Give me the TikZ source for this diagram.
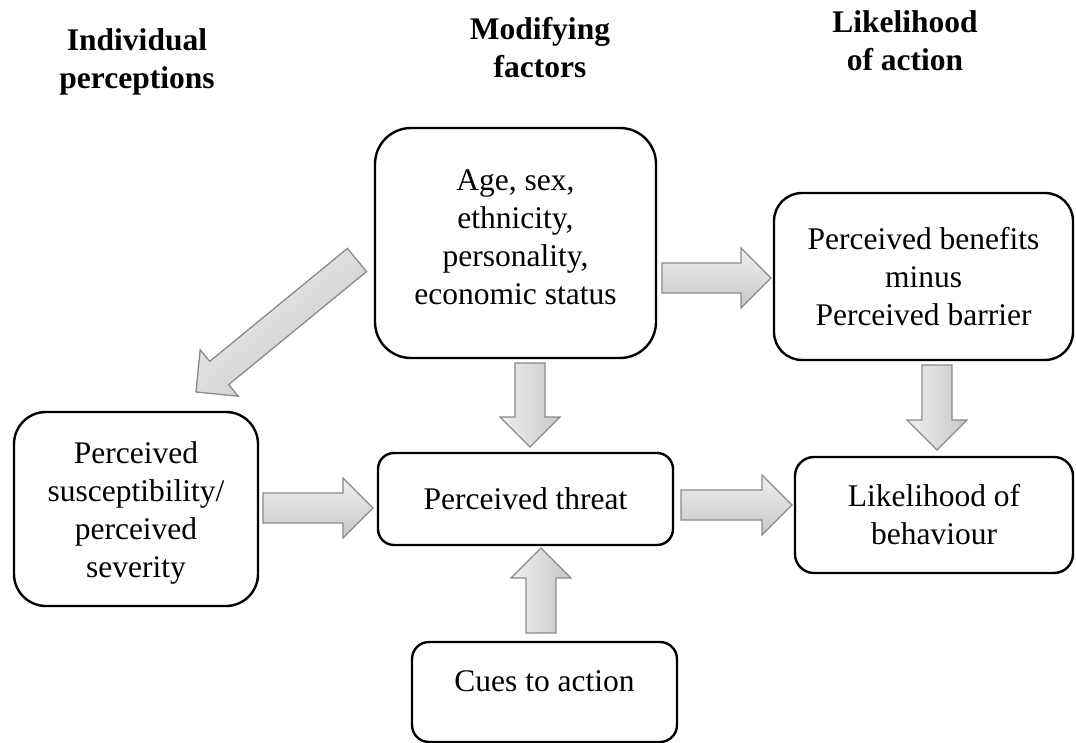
\documentclass[tikz,border=0pt]{standalone}
\usepackage{fontspec}
\setmainfont{Liberation Serif}
\usetikzlibrary{calc}
\newcommand\bodyfont{\fontsize{31.5}{38}\selectfont}
\newcommand\headfont{\fontsize{31.5}{38}\selectfont\bfseries}
\tikzset{
  box/.style={draw=black, line width=2.4pt, rounded corners=#1, align=center,
    inner sep=0pt, font=\bodyfont, fill=white},
  heading/.style={align=center, inner sep=0pt, font=\headfont},
  barrow/.style={draw=black!46, line width=1.3pt, line join=miter},
  hgrad/.style={top color=black!6, bottom color=black!22},
  vgrad/.style={left color=black!6, right color=black!22},
  dgrad/.style={top color=black!6, bottom color=black!22, shading angle=40},
}
% block arrow from #2 (tail) to #3 (tip): shaft 30, head 60 wide, 30 long
\newcommand\blockarrow[3][]{%
  \coordinate (bA) at (#2);
  \coordinate (bB) at (#3);
  \coordinate (bH) at ($(bB)!30pt!(bA)$);
  \path[barrow,#1]
    ($(bA)!15pt!90:(bB)$) -- ($(bH)!15pt!90:(bB)$) -- ($(bH)!30pt!90:(bB)$)
    -- (bB) -- ($(bH)!30pt!-90:(bB)$) -- ($(bH)!15pt!-90:(bB)$)
    -- ($(bA)!15pt!-90:(bB)$) -- cycle;}
\begin{document}
\begin{tikzpicture}[x=1pt,y=-1pt]
\useasboundingbox (0,0) rectangle (1076,743);

% headings
\node[heading] (h1) at (137,61.7) {Individual\\perceptions};
\node[heading] (h2) at (540,48) {Modifying\\factors};
\node[heading] (h3) at (905,40.5) {Likelihood\\of action};

% boxes
\node[box=36pt, minimum width=281pt, minimum height=230pt] (age) at (515.5,243)
  {Age, sex,\\ethnicity,\\personality,\\economic status\rule[-11pt]{0pt}{11pt}};
\node[box=28pt, minimum width=299pt, minimum height=167pt] (ben) at (923.5,276.5)
  {Perceived benefits\\minus\\Perceived barrier};
\node[box=32pt, minimum width=244pt, minimum height=194pt] (sus) at (136,509)
  {Perceived\rule{0pt}{30pt}\\susceptibility/\\perceived\\severity};
\node[box=16pt, minimum width=295pt, minimum height=92pt] (thr) at (525.5,499)
  {Perceived threat};
\node[box=19pt, minimum width=278pt, minimum height=116pt] (lik) at (934,515)
  {Likelihood of\\behaviour};
\node[box=17pt, minimum width=265pt, minimum height=100pt] (cue) at (544.5,692)
  {Cues to action\rule[-22pt]{0pt}{22pt}};

% arrow end points
\coordinate (a1s) at (357,260);  \coordinate (a1e) at (196,392);
\coordinate (a2s) at (662,278);  \coordinate (a2e) at (771,278);
\coordinate (a3s) at (530,363);  \coordinate (a3e) at (530,447);
\coordinate (a4s) at (937,365);  \coordinate (a4e) at (937,450);
\coordinate (a5s) at (263,508);  \coordinate (a5e) at (373,508);
\coordinate (a6s) at (681,505);  \coordinate (a6e) at (792,505);
\coordinate (a7s) at (541,633);  \coordinate (a7e) at (541,548);

% block arrows
\blockarrow[dgrad]{a1s}{a1e}
\blockarrow[hgrad]{a2s}{a2e}
\blockarrow[vgrad]{a3s}{a3e}
\blockarrow[vgrad]{a4s}{a4e}
\blockarrow[hgrad]{a5s}{a5e}
\blockarrow[hgrad]{a6s}{a6e}
\blockarrow[vgrad]{a7s}{a7e}
\end{tikzpicture}
\end{document}
